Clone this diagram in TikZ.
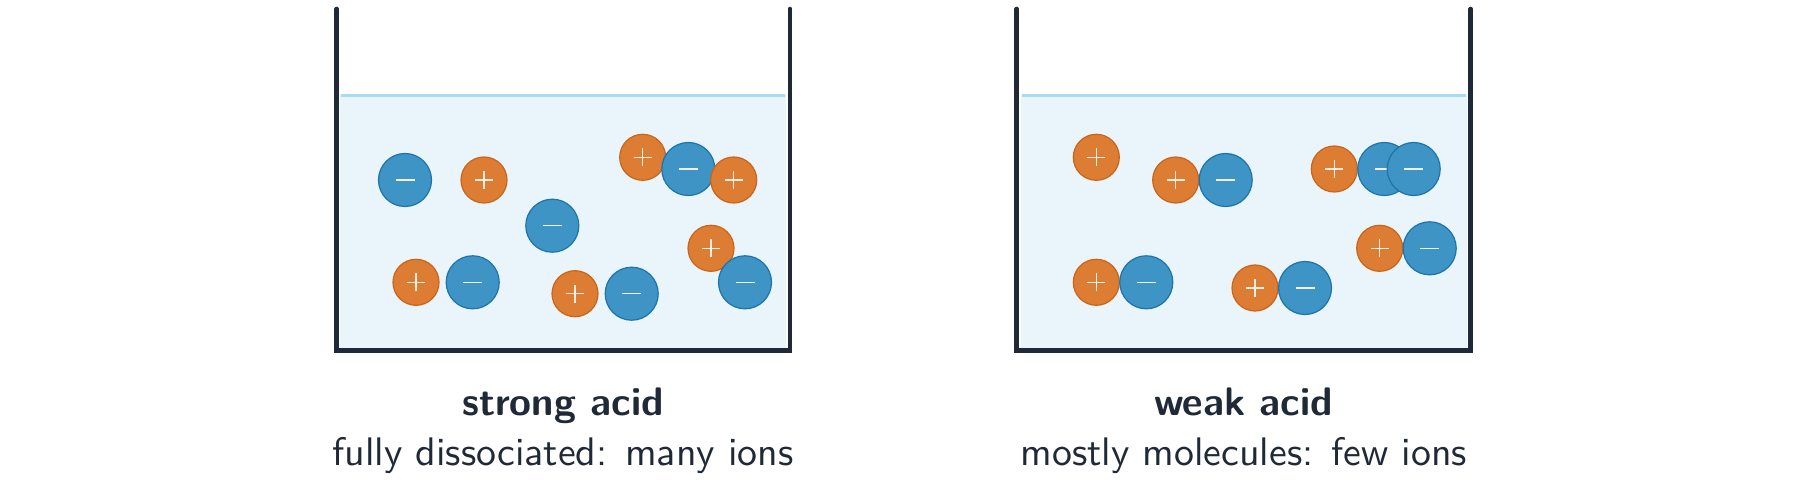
\documentclass[tikz,border=0pt]{standalone}
\usetikzlibrary{calc}
\definecolor{ink}{HTML}{1F2937}
\definecolor{water}{HTML}{EAF5FB}
\definecolor{waterline}{HTML}{A8DCF2}
\definecolor{ionorange}{HTML}{DD7C33}
\definecolor{ionorangedark}{HTML}{CC6417}
\definecolor{ionblue}{HTML}{3D94C5}
\definecolor{ionbluedark}{HTML}{1C74AE}
\definecolor{signcol}{HTML}{F6EDE4}
\begin{document}
\begin{tikzpicture}[x=1bp,y=-1bp,
  wall/.style={draw=ink, line width=4.6bp, line join=miter, line cap=round},
  waterbox/.style={fill=water, draw=none},
  surface/.style={draw=waterline, line width=2.5bp},
  signline/.style={draw=signcol, line width=1.4bp},
  cation/.style={circle, fill=ionorange, draw=ionorangedark, line width=1.2bp, minimum size=46bp, inner sep=0pt,
    path picture={
      \draw[signline] ($(path picture bounding box.center)+(-9bp,0)$) -- ($(path picture bounding box.center)+(9bp,0)$);
      \draw[signline] ($(path picture bounding box.center)+(0,-9bp)$) -- ($(path picture bounding box.center)+(0,9bp)$);}},
  anion/.style={circle, fill=ionblue, draw=ionbluedark, line width=1.2bp, minimum size=53bp, inner sep=0pt,
    path picture={
      \draw[signline] ($(path picture bounding box.center)+(-9.5bp,0)$) -- ($(path picture bounding box.center)+(9.5bp,0)$);}},
  title/.style={anchor=base, text=ink, scale=4.0, transform shape, font=\fontsize{10}{12}\selectfont\sffamily\bfseries},
  caption/.style={anchor=base, text=ink, scale=4.0, transform shape, font=\fontsize{10}{12}\selectfont\sffamily}
]
\useasboundingbox (0,0) rectangle (1800,495);

% ---------- strong acid beaker ----------
\fill[waterbox] (340,95) rectangle (786,348);
\draw[surface] (341,95.3) coordinate (sa) -- (785,95.3) coordinate (sb);
\draw[wall] (336.7,9) coordinate (a1) -- (336.7,350.5) coordinate (a2) -- (790,350.5) coordinate (a3) -- (790,9) coordinate (a4);

\node[anion]  (s1)  at (405,180) {};
\node[cation] (s2)  at (484,180) {};
\node[anion]  (s3)  at (552.3,225.7) {};
\node[cation] (s4)  at (642.7,157.3) {};
\node[anion]  (s5)  at (688.3,169) {};
\node[cation] (s6)  at (733.7,180) {};
\node[cation] (s7)  at (711,248.3) {};
\node[anion]  (s8)  at (745,282.3) {};
\node[cation] (s9)  at (416,282.3) {};
\node[anion]  (s10) at (472.7,282.3) {};
\node[cation] (s11) at (575,293.7) {};
\node[anion]  (s12) at (631.7,293.7) {};

\node[title]   (st) at (563,415) {strong acid};
\node[caption] (sc) at (563,465) {fully dissociated: many ions};

% ---------- weak acid beaker ----------
\fill[waterbox] (1021,95) rectangle (1467,348);
\draw[surface] (1022,95.3) coordinate (wa) -- (1466,95.3) coordinate (wb);
\draw[wall] (1016.7,9) coordinate (b1) -- (1016.7,350.5) coordinate (b2) -- (1470.7,350.5) coordinate (b3) -- (1470.7,9) coordinate (b4);

\node[cation] (w1)  at (1096.3,157.3) {};
\node[cation] (w2)  at (1175.7,180) {};
\node[anion]  (w3)  at (1225.7,180) {};
\node[cation] (w4)  at (1334.3,169) {};
\node[anion]  (w5)  at (1384.3,169) {};
\node[anion]  (w6)  at (1413.7,169) {};
\node[cation] (w7)  at (1379.7,248.3) {};
\node[anion]  (w8)  at (1429.7,248.3) {};
\node[cation] (w9)  at (1096.3,282.3) {};
\node[anion]  (w10) at (1146.3,282.3) {};
\node[cation] (w11) at (1255,288) {};
\node[anion]  (w12) at (1305,288) {};

\node[title]   (wt) at (1243.7,415) {weak acid};
\node[caption] (wc) at (1243.7,465) {mostly molecules: few ions};
\end{tikzpicture}
\end{document}
